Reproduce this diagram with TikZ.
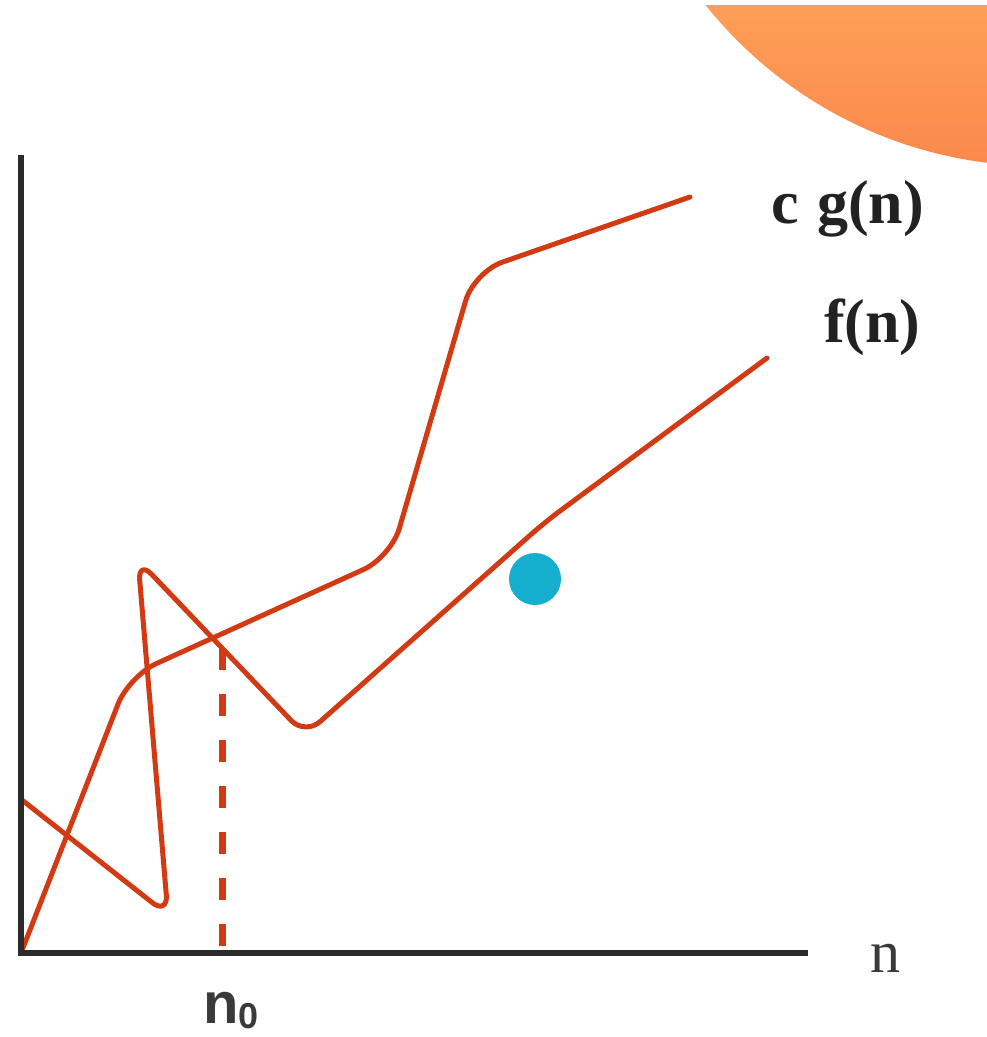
\documentclass[tikz,border=0pt]{standalone}
\usepackage{fontspec}
\usepackage{xcolor}
\usepackage{tikz}
\usetikzlibrary{positioning,calc}
\newfontfamily\plotserif{Liberation Serif}
\newfontfamily\plotsans{Liberation Sans}
\definecolor{axisInk}{HTML}{2B2B2B}
\definecolor{curveRed}{HTML}{D23A14}
\definecolor{dotCyan}{HTML}{16AECF}
\definecolor{blobTop}{HTML}{FF9E57}
\definecolor{blobBot}{HTML}{F9884B}
\definecolor{lblInk}{HTML}{222222}
\definecolor{subInk}{HTML}{3A3A3A}
\tikzset{
  axisline/.style={draw=axisInk, line width=6.5pt, line join=miter},
  plotline/.style={draw=curveRed, line width=5pt, line join=round, line cap=round},
  dropline/.style={draw=curveRed, line width=7pt, dash pattern=on 22pt off 24pt},
  fnlbl/.style={inner sep=0pt, anchor=base west, text=lblInk,
    font=\plotserif\bfseries\fontsize{62}{62}\selectfont},
  axlbl/.style={inner sep=0pt, anchor=base west, text=subInk,
    font=\plotserif\fontsize{60}{60}\selectfont}
}
\begin{document}
\begin{tikzpicture}[x=1pt, y=-1pt,
    zerolbl/.style={inner sep=0pt, anchor=base west, text=subInk,
      font=\plotsans\bfseries\fontsize{58}{58}\selectfont},
    marker/.style={circle, fill=dotCyan, inner sep=0pt, minimum size=52pt}
    ]
  \useasboundingbox (0,0) rectangle (987,1037);

  \begin{scope}
    \clip (1040,-262) circle[radius=428];
    \shade[top color=blobTop, bottom color=blobBot] (680,5) rectangle (987,175);
  \end{scope}

  \coordinate (origin) at (21,953);
  \coordinate (ytop) at (21,155);
  \coordinate (xend) at (808,953);
  \coordinate (cross) at (222,648);
  \coordinate (foot) at (222,953);

  \draw[dropline] (cross) -- (foot);

  \draw[plotline, rounded corners=30pt]
    (origin) -- (129,676) -- (391,557) -- (474,272) -- (690,197);
  \draw[plotline, rounded corners=20pt]
    (22,800) -- (168,915) -- (138,560) -- (305,735) -- (545,522) -- (767,358);

  \draw[axisline] (ytop) -- (origin) -- (xend);

  \node[marker] (dot) at (535,579) {};

  \node[fnlbl] (cg) at (771,223) {c\hspace{0.3em}g(n)};
  \node[fnlbl] (fn) at (824,342) {f(n)};
  \node[axlbl] (xname) at (870,972) {n};
  \node[zerolbl] (nzero) at (203,1023)
    {n\raisebox{-5pt}{\fontsize{36}{36}\selectfont 0}};

\end{tikzpicture}
\end{document}
